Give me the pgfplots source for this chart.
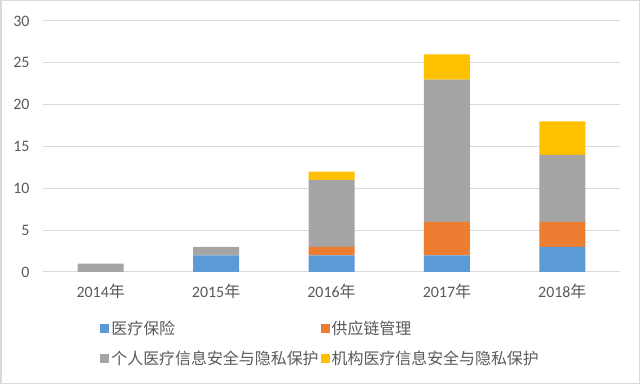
\documentclass[border=0pt]{standalone}
\usepackage{pgfplots}
\pgfplotsset{compat=1.18}
\usepackage{fontspec}
\setmainfont{Carlito}
\newfontfamily\cjk{Noto Sans CJK SC}
\definecolor{cblue}{HTML}{5B9BD5}
\definecolor{corange}{HTML}{ED7D31}
\definecolor{cgray}{HTML}{A5A5A5}
\definecolor{cyellow}{HTML}{FFC000}
\definecolor{gridc}{HTML}{D9D9D9}
\definecolor{textc}{HTML}{595959}
\begin{document}
\begin{tikzpicture}
\draw[draw=gridc, line width=1.5bp] (0.75bp,0.75bp) rectangle (639.25bp,383.25bp);
\begin{axis}[
  at={(43bp,112bp)}, anchor=south west,
  width=577bp, height=251bp, scale only axis,
  ybar stacked, bar width=46bp,
  xmin=-0.5, xmax=4.5, ymin=0, ymax=30,
  xtick={0,1,2,3,4},
  xticklabels={2014{\cjk 年},2015{\cjk 年},2016{\cjk 年},2017{\cjk 年},2018{\cjk 年}},
  ytick={0,5,...,30},
  ymajorgrids, grid style={draw=gridc, line width=1bp},
  major tick length=0pt,
  axis x line*=bottom, axis y line*=left,
  y axis line style={draw=none},
  x axis line style={draw=gridc, line width=1bp},
  tick label style={font=\fontsize{16}{19}\selectfont, text=textc},
  /pgf/number format/assume math mode=true,
  yticklabel style={xshift=-10bp},
  xticklabel style={yshift=-9bp},
  legend columns=2,
  legend style={at={(0.094,-0.178)}, anchor=north west, draw=none, fill=none,
    font=\cjk\fontsize{16}{19}\selectfont, text=textc, row sep=11bp,
    /tikz/every even column/.append style={column sep=0bp},
    cells={anchor=west}},
  legend image code/.code={\fill[#1,draw=none] (0bp,-4.5bp) rectangle (9bp,4.5bp);},
]
\addplot[fill=cblue, draw=none] coordinates {(0,0) (1,2) (2,2) (3,2) (4,3)};
\addplot[fill=corange, draw=none] coordinates {(0,0) (1,0) (2,1) (3,4) (4,3)};
\addplot[fill=cgray, draw=none] coordinates {(0,1) (1,1) (2,8) (3,17) (4,8)};
\addplot[fill=cyellow, draw=none] coordinates {(0,0) (1,0) (2,1) (3,3) (4,4)};
\legend{医疗保险,供应链管理,个人医疗信息安全与隐私保护,机构医疗信息安全与隐私保护}
\end{axis}
\end{tikzpicture}
\end{document}
